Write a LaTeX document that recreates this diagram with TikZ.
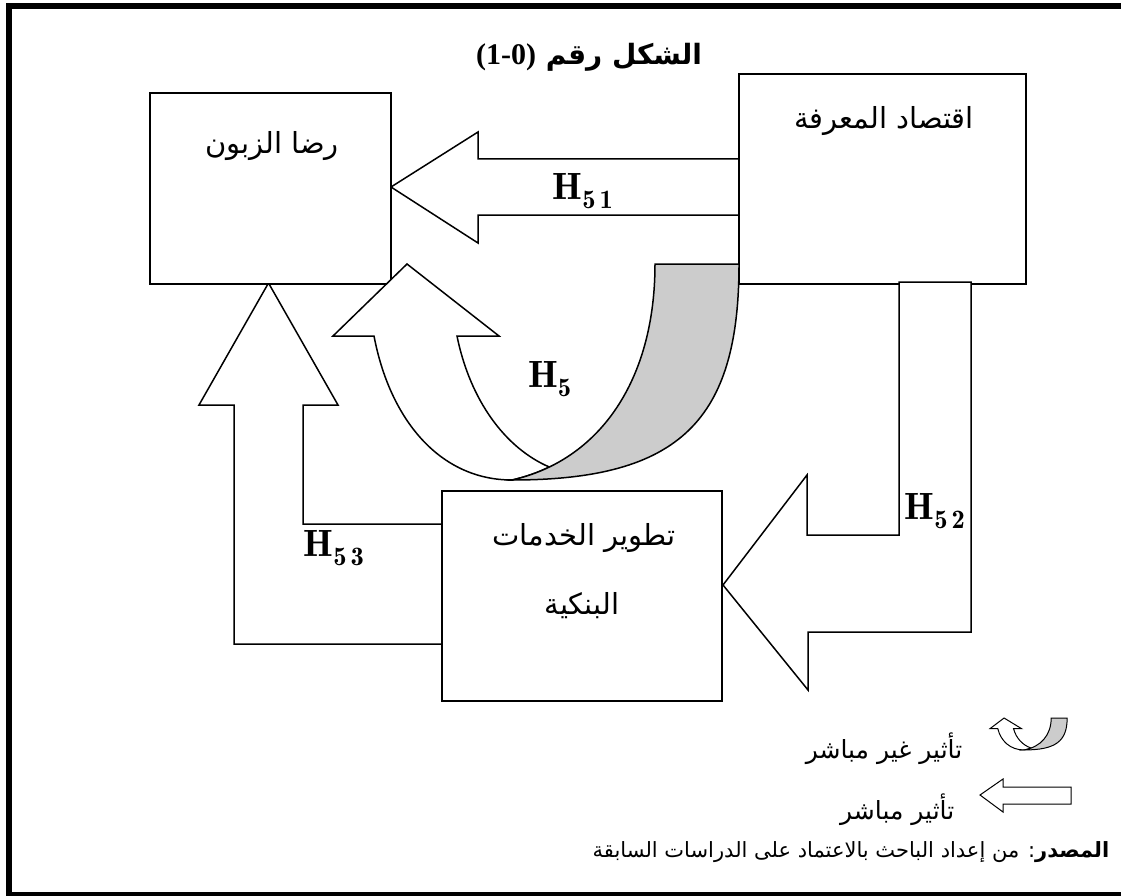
\documentclass[tikz,border=0pt]{standalone}
\usepackage{fontspec}
\newfontfamily\arabicfont[Script=Arabic]{DejaVu Sans}
\newfontfamily\numfont{Liberation Serif}
\TeXXeTstate=1
\definecolor{arrowgray}{RGB}{204,204,204}
\begin{document}
\begin{tikzpicture}[x=1pt,y=-1pt,line width=1.5pt,
  box/.style={draw,fill=white,inner sep=0pt},
  blockarrow/.style={draw,fill=white,line join=miter},
  artxt/.style={font=\arabicfont\fontsize{29}{34}\selectfont,inner sep=0pt},
  legtxt/.style={font=\arabicfont\fontsize{25}{30}\selectfont,inner sep=0pt},
  srctxt/.style={font=\arabicfont\fontsize{21}{25}\selectfont,inner sep=0pt},
  hlab/.style={font=\fontsize{38}{44}\selectfont,inner sep=0pt},
  curvarrow/.pic={
    \draw[fill=white,line join=miter]
      (41,72) .. controls (57,156) and (107,216) .. (179,216)
      .. controls (192.2,213) and (204.7,208.7) .. (216.3,203)
      .. controls (172,184) and (137,136) .. (124,72)
      -- (166,72) -- (74,0) -- (0,72) -- cycle;
    \draw[fill=arrowgray]
      (322,0) -- (406,0) .. controls (406,156) and (347,216) .. (179,216)
      .. controls (267,196) and (322,116) .. (322,0) -- cycle;
  }
]
\useasboundingbox (0,0) rectangle (1121,896);
% outer frame
\draw[line width=6pt] (1121,6.5) -- (9,6.5) -- (9,895) -- (1121,895);

% title
\node[inner sep=0pt,font=\arabicfont\bfseries\fontsize{28}{32}\selectfont] (title) at (589,57)
  {\beginR الشكل رقم \beginL{\numfont\bfseries\fontsize{30}{34}\selectfont(1-0)}\endL\endR};

% H53 block arrow (from service box up to satisfaction box)
\draw[blockarrow] (442,524) -- (303,524) -- (303,405) -- (338,405) -- (268.5,283)
  -- (199,405) -- (234,405) -- (234,644) -- (442,644);
% H51 block arrow
\draw[blockarrow] (739,159) -- (478,159) -- (478,132) -- (391,187) -- (478,243)
  -- (478,215) -- (739,215);

% boxes
\node[box,minimum width=241pt,minimum height=191pt] (sat) at (270.5,188.5) {};
\node[box,minimum width=287pt,minimum height=210pt] (eco) at (882.5,179) {};
\node[box,minimum width=280pt,minimum height=210pt] (dev) at (582,596) {};

\node[artxt] (satT) at (272,146) {\beginR رضا الزبون\endR};
\node[artxt] (ecoT) at (884,121) {\beginR اقتصاد المعرفة\endR};
\node[artxt] (devT1) at (584,538) {\beginR تطوير الخدمات\endR};
\node[artxt] (devT2) at (582,606) {\beginR البنكية\endR};

% H52 block arrow (from economy box down and left into service box)
\draw[blockarrow] (899,282) -- (971,282) -- (971,632) -- (808,632) -- (808,690)
  -- (723,585) -- (807,475) -- (807,535) -- (899,535) -- cycle;

% curved indirect arrow H5
\pic at (333,264) {curvarrow};

% labels
\node[hlab] (h51) at (583,191) {$\mathbf{H}_{\mathbf{5\,1}}$};
\node[hlab] (h5) at (550,379) {$\mathbf{H}_{\mathbf{5}}$};
\node[hlab] (h52) at (935,511) {$\mathbf{H}_{\mathbf{5\,2}}$};
\node[hlab] (h53) at (334,548) {$\mathbf{H}_{\mathbf{5\,3}}$};

% legend
\pic[line width=1pt,xscale=0.19,yscale=0.148] at (990,718) {curvarrow};
\node[legtxt,anchor=east] (legInd) at (963,749) {\beginR تأثير غير مباشر\endR};
\draw[blockarrow,line width=1pt] (1071,787) -- (1003,787) -- (1003,779) -- (980,795)
  -- (1003,812) -- (1003,804) -- (1071,804) -- cycle;
\node[legtxt,anchor=east] (legDir) at (955,810) {\beginR تأثير مباشر\endR};

% source
\node[srctxt,anchor=east] (src) at (1110,852)
  {\beginR{\bfseries المصدر}: من إعداد الباحث بالاعتماد على الدراسات السابقة\endR};
\end{tikzpicture}
\end{document}
